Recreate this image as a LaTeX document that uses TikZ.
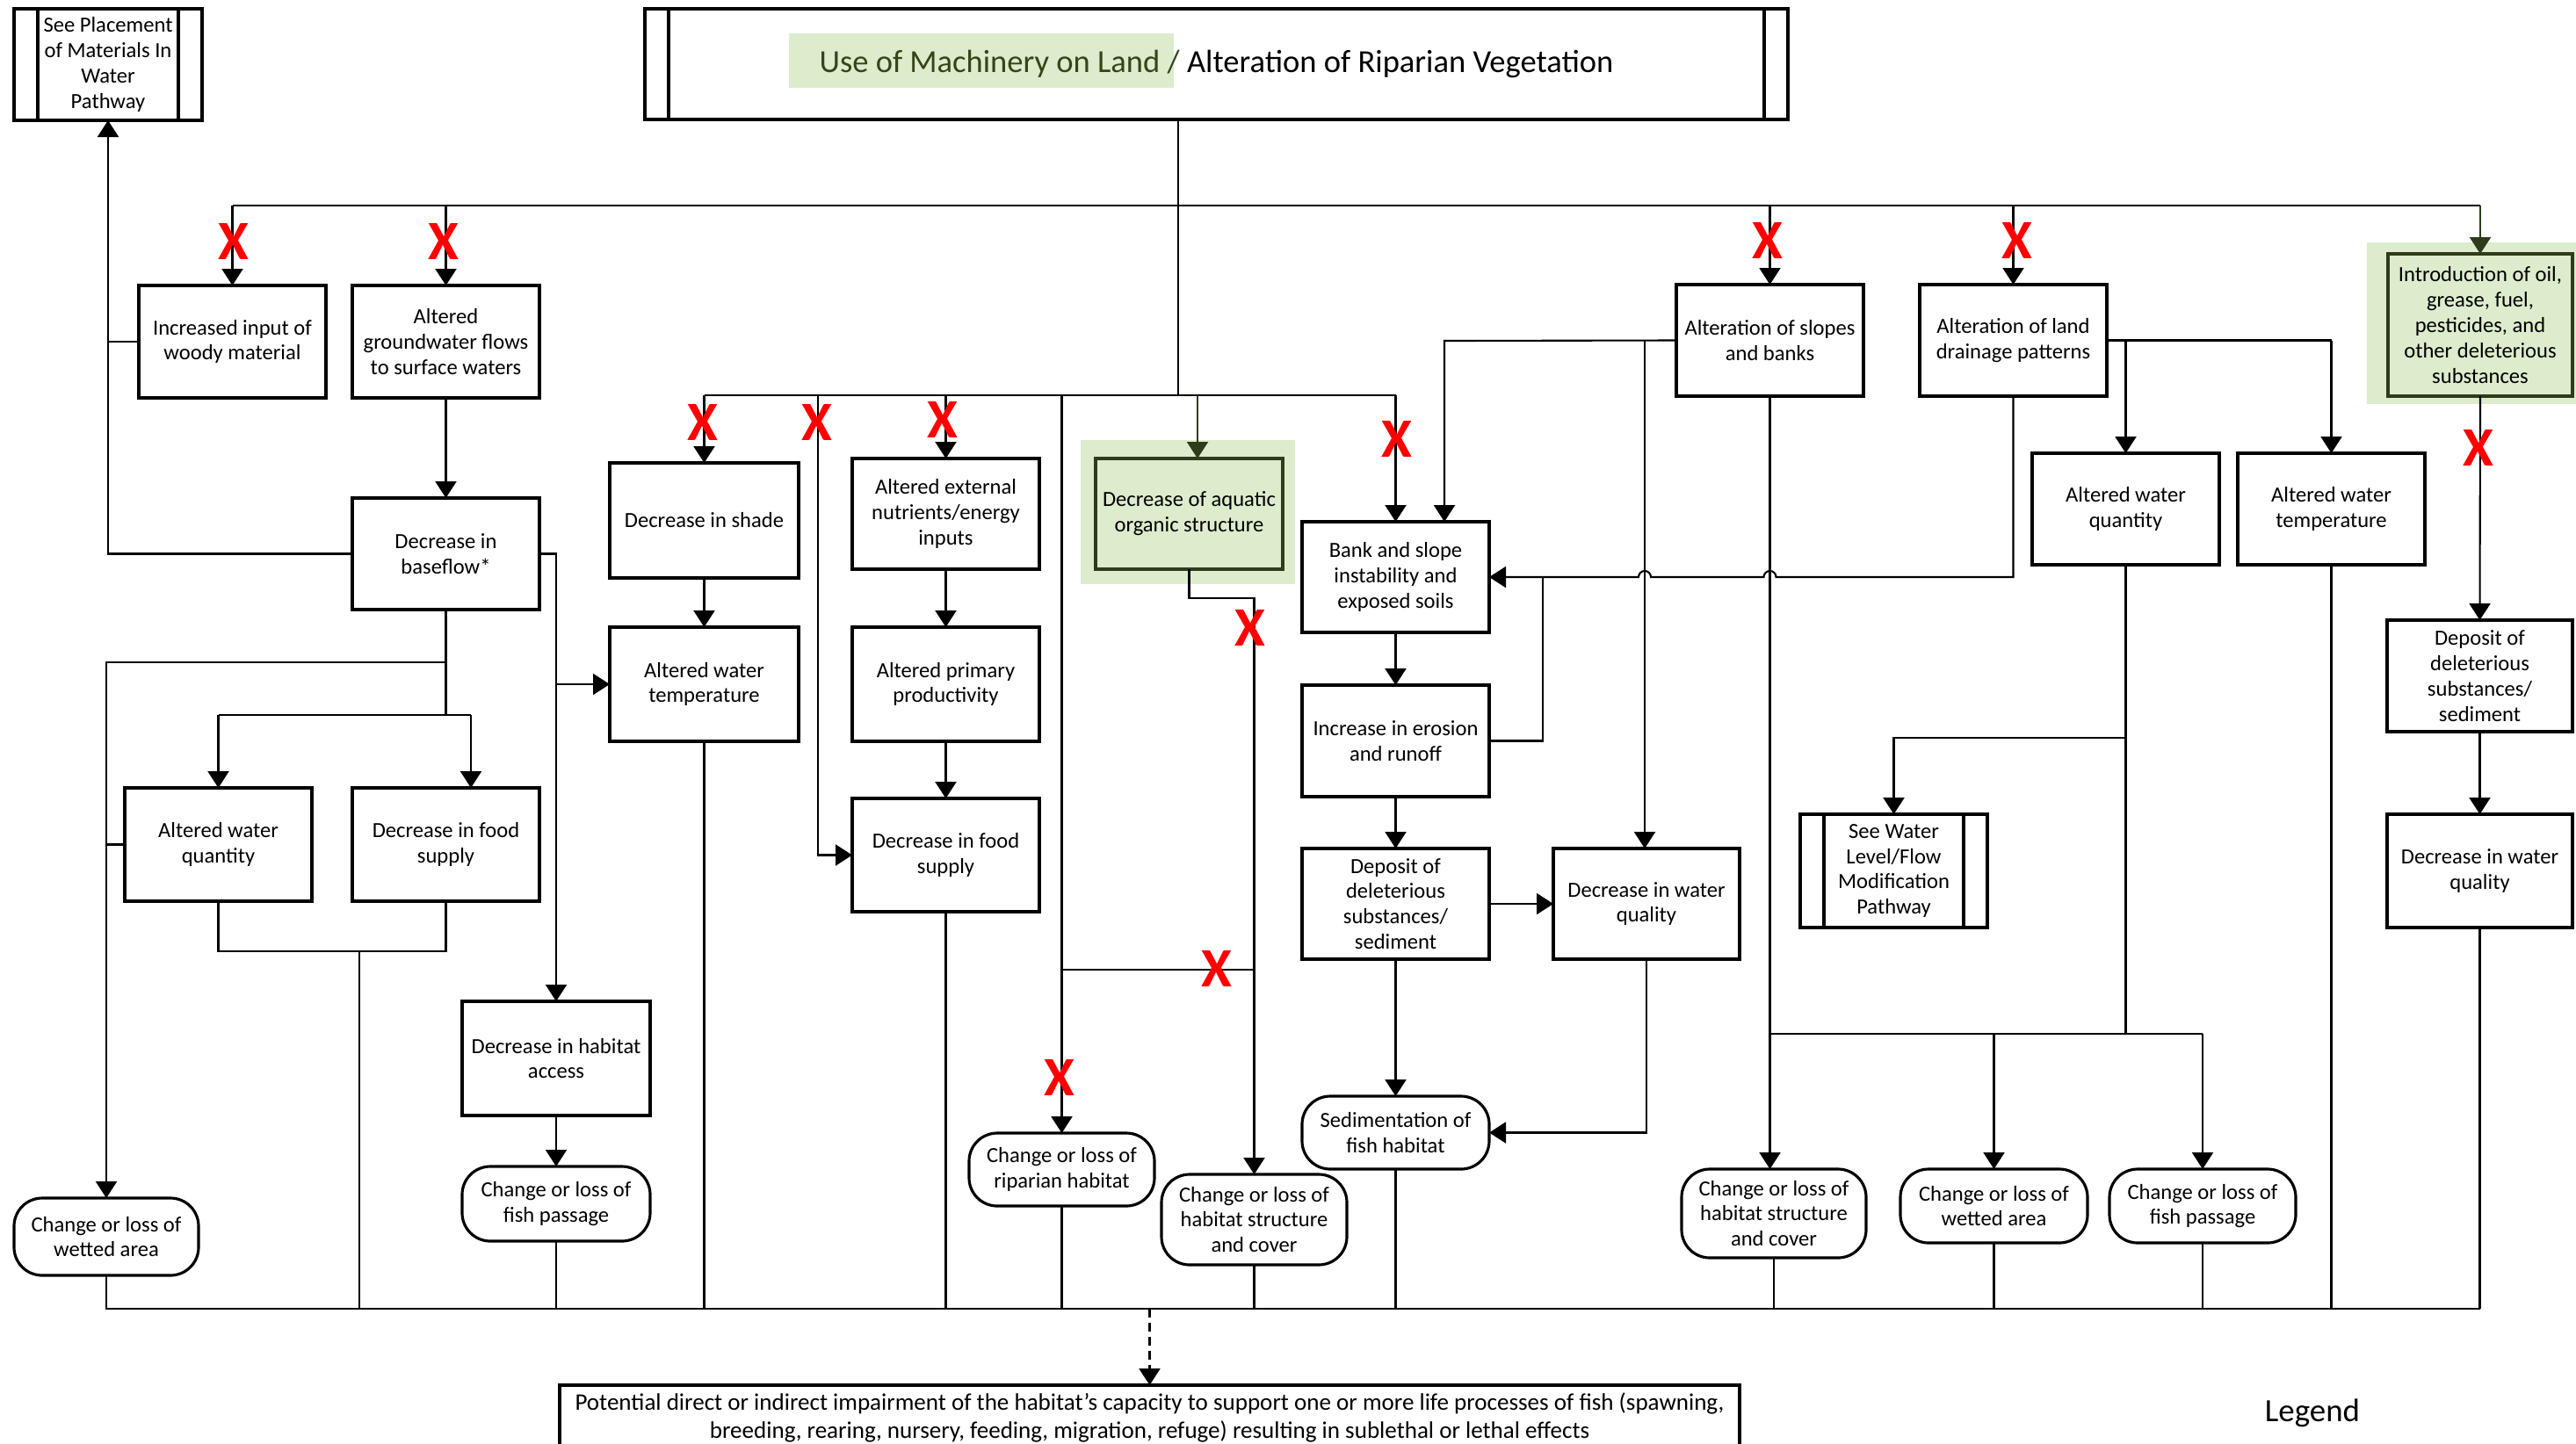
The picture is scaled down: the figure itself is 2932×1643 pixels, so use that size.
\documentclass[tikz,border=0pt]{standalone}
\usepackage{fontspec}
\setmainfont{Carlito}
\usetikzlibrary{arrows.meta}
\definecolor{gfill}{RGB}{221,236,204}
\definecolor{gdark}{RGB}{45,60,25}
\definecolor{gtext}{RGB}{55,68,25}
\tikzset{
 bx/.style={draw, line width=0.9pt, inner sep=0pt, outer sep=0pt, align=center, font=\fontsize{7}{8.2}\selectfont, fill=white},
 term/.style={rounded corners=3.2mm},
 pp/.style={path picture={\draw[line width=0.9pt] ([xshift=2.7mm]path picture bounding box.north west) -- ([xshift=2.7mm]path picture bounding box.south west); \draw[line width=0.9pt] ([xshift=-2.7mm]path picture bounding box.north east) -- ([xshift=-2.7mm]path picture bounding box.south east);}},
 gbox/.style={draw=gdark, fill=gfill},
 ln/.style={line width=0.6pt},
 arr/.style={ln, -{Triangle[width=2.4mm,length=1.9mm]}},
 xm/.style={text=red, font=\fontsize{18}{18}\selectfont\bfseries, inner sep=0pt},
}
\newcommand\bx[7][]{\node[bx,#1,minimum width={(#4-#2)*0.1mm},minimum height={(#5-#3)*0.1mm}] (#6) at ({(#2+#4)/2},{(#3+#5)/2}) {#7};}
\begin{document}
\begin{tikzpicture}[x=0.1mm,y=-0.1mm]
\useasboundingbox (0,0) rectangle (2932,1643);
\clip (0,0) rectangle (2932,1643);
\fill[white] (0,0) rectangle (2932,1643);
% green backgrounds
\fill[gfill] (898,38) rectangle (1336,100);
\fill[gfill] (2694,276) rectangle (2932,460);
\fill[gfill] (1230,501) rectangle (1474,665);
% nodes
\bx[pp]{16}{10}{230}{137}{sp}{See Placement\\of Materials In\\Water\\Pathway}
\bx[pp,fill=none,line width=1.1pt,font=\fontsize{10.4}{12}\selectfont]{734}{10}{2035}{136}{title}{\textcolor{gtext}{Use of Machinery on Land /} Alteration of Riparian Vegetation}
\bx{158}{325}{371}{453}{woody}{Increased input of\\woody material}
\bx{401}{325}{614}{453}{gw}{Altered\\groundwater flows\\to surface waters}
\bx{1908}{324}{2121}{451}{slopes}{Alteration of slopes\\and banks}
\bx{2185}{324}{2398}{451}{drain}{Alteration of land\\drainage patterns}
\bx[gbox]{2718}{289}{2928}{451}{oil}{Introduction of oil,\\grease, fuel,\\pesticides, and\\other deleterious\\substances}
\bx{401}{567}{614}{694}{bf}{Decrease in\\baseflow*}
\bx{142}{897}{355}{1026}{wql}{Altered water\\quantity}
\bx{401}{897}{614}{1026}{fdl}{Decrease in food\\supply}
\bx{526}{1140}{740}{1270}{hacc}{Decrease in habitat\\access}
\bx[term]{526}{1328}{740}{1413}{fpl}{Change or loss of\\fish passage}
\bx[term]{16}{1364}{226}{1452}{wal}{Change or loss of\\wetted area}
\bx{694}{527}{909}{658}{shade}{Decrease in shade}
\bx{694}{714}{909}{844}{wtl}{Altered water\\temperature}
\bx{970}{522}{1183}{648}{nut}{Altered external\\nutrients/energy\\inputs}
\bx{970}{714}{1183}{844}{prod}{Altered primary\\productivity}
\bx{970}{909}{1183}{1038}{fd2}{Decrease in food\\supply}
\bx[term]{1103}{1290}{1314}{1373}{rip}{Change or loss of\\riparian habitat}
\bx[gbox]{1247}{522}{1460}{648}{aq}{Decrease of aquatic\\organic structure}
\bx[term]{1322}{1337}{1533}{1440}{hsl}{Change or loss of\\habitat structure\\and cover}
\bx{1482}{594}{1695}{720}{bank}{Bank and slope\\instability and\\exposed soils}
\bx{1482}{780}{1695}{907}{ero}{Increase in erosion\\and runoff}
\bx{1482}{966}{1695}{1092}{dpm}{Deposit of\\deleterious\\substances/\\sediment}
\bx{1768}{966}{1980}{1092}{dwqm}{Decrease in water\\quality}
\bx[term]{1482}{1248}{1695}{1331}{sed}{Sedimentation of\\fish habitat}
\bx[pp]{2049}{927}{2262}{1056}{sw}{See Water\\Level/Flow\\Modification\\Pathway}
\bx{2313}{516}{2526}{643}{wqr}{Altered water\\quantity}
\bx{2547}{516}{2760}{643}{wtr}{Altered water\\temperature}
\bx{2717}{706}{2928}{833}{dpr}{Deposit of\\deleterious\\substances/\\sediment}
\bx{2717}{927}{2928}{1056}{dwqr}{Decrease in water\\quality}
\bx[term]{1914}{1331}{2124}{1432}{hsr}{Change or loss of\\habitat structure\\and cover}
\bx[term]{2163}{1331}{2376}{1415}{wr}{Change or loss of\\wetted area}
\bx[term]{2401}{1331}{2613}{1415}{fpr}{Change or loss of\\fish passage}
\bx[font=\fontsize{7.7}{9}\selectfont]{637}{1577}{1980}{1651}{fin}{Potential direct or indirect impairment of the habitat’s capacity to support one or more life processes of fish (spawning,\\breeding, rearing, nursery, feeding, migration, refuge) resulting in sublethal or lethal effects}
\node[font=\fontsize{10.5}{12}\selectfont, inner sep=0pt] (legend) at (2632,1609) {Legend};
% coordinates
\coordinate (B1) at (0,234);
\coordinate (B2) at (0,450);
\coordinate (B3) at (0,1490);
\coordinate (tl) at (1341,136);
\coordinate (J0) at (0,754);
\coordinate (J1) at (0,814);
\coordinate (J2) at (0,1083);
\coordinate (J3) at (0,1104);
\coordinate (J4) at (0,681);
\coordinate (J5) at (0,1177);
\coordinate (J6) at (0,840);
\coordinate (J7) at (0,657);
\coordinate (fdA) at (536,814);
\coordinate (c409) at (409,1083);
\coordinate (c931) at (931,450);
\coordinate (c1363) at (1363,450);
\coordinate (c1644) at (1644,388);
\coordinate (c1872) at (1872,388);
\coordinate (c1756) at (1756,657);
\coordinate (h1) at (2021.5,657);
\coordinate (h2) at (1879,657);
% connectors
\draw[ln] (tl) -- (tl |- B2);
\draw[ln] (woody.north |- B1) -- (oil.north |- B1);
\foreach \n in {woody,gw,slopes,drain} \draw[arr] (\n.north |- B1) -- (\n.north);
\draw[arr,draw=gdark] (oil.north |- B1) -- (oil.north);
\draw[arr] (bf.west) -| (sp.south);
\draw[ln] (woody.west) -- (woody.west -| sp.south);
\draw[arr] (gw.south) -- (bf.north);
\draw[arr] (bf.east) -| (hacc.north);
\draw[arr] (wtl.west -| hacc.north) -- (wtl.west);
\draw[ln] (bf.south) -- (bf.south |- J1);
\draw[arr] (bf.south |- J0) -| (wal.north);
\draw[ln] (wql.north |- J1) -- (fdA);
\draw[arr] (wql.north |- J1) -- (wql.north);
\draw[arr] (fdA) -- (fdA |- fdl.north);
\draw[ln] (wql.west) -- (wql.west -| wal.north);
\draw[ln] (wql.south) |- (fdl.south |- J2) -- (fdl.south);
\draw[ln] (c409) -- (c409 |- B3);
\draw[ln] (wal.south) -- (wal.south |- B3) -- (dwqr.south |- B3);
\draw[arr] (hacc.south) -- (fpl.north);
\draw[ln] (fpl.south) -- (fpl.south |- B3);
\draw[ln] (shade.north |- B2) -- (bank.north |- B2);
\draw[arr] (shade.north |- B2) -- (shade.north);
\draw[arr] (shade.south) -- (wtl.north);
\draw[ln] (wtl.south) -- (wtl.south |- B3);
\draw[arr] (c931) |- (fd2.west);
\draw[arr] (nut.north |- B2) -- (nut.north);
\draw[arr] (nut.south) -- (prod.north);
\draw[arr] (prod.south) -- (fd2.north);
\draw[ln] (fd2.south) -- (fd2.south |- B3);
\draw[arr] (rip.north |- B2) -- (rip.north);
\draw[ln] (rip.north |- J3) -- (hsl.north |- J3);
\draw[ln] (rip.south) -- (rip.south |- B3);
\draw[arr,draw=gdark] (c1363) -- (c1363 |- aq.north);
\draw[arr] (aq.south) |- (hsl.north |- J4) -- (hsl.north);
\draw[ln] (hsl.south) -- (hsl.south |- B3);
\draw[arr] (bank.north |- B2) -- (bank.north);
\draw[arr] (slopes.west) -- (c1644) -- (c1644 |- bank.north);
\draw[arr] (c1872) -- (c1872 |- dwqm.north);
\draw[arr] (slopes.south) -- (slopes.south |- hsr.north);
\draw[ln] (slopes.south |- J5) -- (fpr.north |- J5);
\draw[arr] (wr.north |- J5) -- (wr.north);
\draw[arr] (fpr.north |- J5) -- (fpr.north);
\draw[ln] (wqr.south) -- (wqr.south |- J5);
\draw[arr] (wqr.south |- J6) -| (sw.north);
\draw[ln] (drain.east) -- (wtr.north |- drain.east);
\draw[arr] (wqr.north |- drain.east) -- (wqr.north);
\draw[arr] (wtr.north |- drain.east) -- (wtr.north);
\draw[ln] (wtr.south) -- (wtr.south |- B3);
\draw[arr] (drain.south) -- (drain.south |- J7) -- (h1) arc[start angle=0,end angle=180,radius=0.7mm] -- (h2) arc[start angle=0,end angle=180,radius=0.7mm] -- (bank.east);
\draw[ln] (ero.east) -| (c1756);
\draw[arr] (bank.south) -- (ero.north);
\draw[arr] (ero.south) -- (dpm.north);
\draw[arr] (dpm.east) -- (dwqm.west);
\draw[arr] (dpm.south) -- (sed.north);
\draw[arr] (dwqm.south) |- (sed.east);
\draw[ln] (sed.south) -- (sed.south |- B3);
\draw[arr] (oil.south) -- (dpr.north);
\draw[arr] (dpr.south) -- (dwqr.north);
\draw[ln] (dwqr.south) -- (dwqr.south |- B3);
\draw[ln] (hsr.south) -- (hsr.south |- B3);
\draw[ln] (wr.south) -- (wr.south |- B3);
\draw[ln] (fpr.south) -- (fpr.south |- B3);
\draw[arr,dash pattern=on 1mm off 0.6mm] (fin.north |- B3) -- (fin.north);
% red crosses
\node[xm] (x1) at (266,275) {X};
\node[xm] (x2) at (505,275) {X};
\node[xm] (x3) at (2012,274) {X};
\node[xm] (x4) at (2296,274) {X};
\node[xm] (x5) at (800,481) {X};
\node[xm] (x6) at (930,481) {X};
\node[xm] (x7) at (1073,478) {X};
\node[xm] (x8) at (1590,500) {X};
\node[xm] (x9) at (1423,715) {X};
\node[xm] (x10) at (2821,510) {X};
\node[xm] (x11) at (1385,1103) {X};
\node[xm] (x12) at (1206,1227) {X};
\end{tikzpicture}
\end{document}
